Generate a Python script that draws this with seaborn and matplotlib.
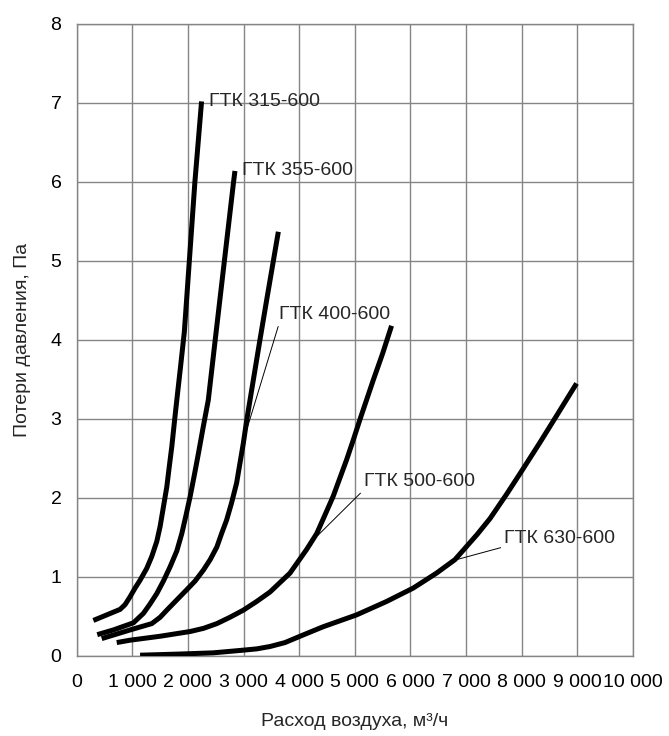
import numpy as np
import pandas as pd
import matplotlib
matplotlib.use("Agg")
import matplotlib.pyplot as plt
import seaborn as sns

# Pressure loss curves (air flow m³/h -> pressure loss Pa)
gtk315_x = [300, 540, 780, 870, 960, 1050, 1140, 1260, 1350, 1440, 1500, 1560, 1620,
            1665, 1710, 1755, 1800, 1870, 1935, 2025, 2125, 2245]
gtk315_y = [0.45, 0.52, 0.59, 0.65, 0.75, 0.86, 0.96, 1.11, 1.26, 1.45, 1.64, 1.89, 2.14,
            2.40, 2.65, 2.95, 3.24, 3.68, 4.10, 5.00, 6.00, 7.02]

gtk355_x = [370, 660, 1020, 1110, 1200, 1320, 1440, 1560, 1680, 1800, 1890, 1965, 2040,
            2115, 2190, 2275, 2366, 2490, 2655, 2820, 2845]
gtk355_y = [0.27, 0.33, 0.42, 0.48, 0.54, 0.66, 0.79, 0.95, 1.13, 1.33, 1.55, 1.78, 2.02,
            2.29, 2.57, 2.90, 3.24, 4.00, 5.00, 6.00, 6.14]

gtk400_x = [450, 960, 1350, 1500, 1620, 1800, 1980, 2130, 2280, 2400, 2520, 2605, 2695,
            2785, 2875, 2935, 2995, 3060, 3130, 3294, 3416, 3535, 3625]
gtk400_y = [0.22, 0.33, 0.41, 0.49, 0.58, 0.71, 0.84, 0.95, 1.09, 1.22, 1.38, 1.55, 1.72,
            1.94, 2.19, 2.44, 2.69, 3.00, 3.30, 4.00, 4.51, 5.00, 5.37]

gtk500_x = [720, 960, 1500, 2040, 2280, 2520, 2755, 2995, 3235, 3475, 3655, 3835, 3955,
            4135, 4315, 4460, 4610, 4730, 4850, 4970, 5090, 5210, 5330, 5500, 5660]
gtk500_y = [0.17, 0.20, 0.25, 0.31, 0.35, 0.41, 0.49, 0.58, 0.69, 0.81, 0.93, 1.05, 1.17,
            1.35, 1.55, 1.78, 2.02, 2.25, 2.48, 2.73, 2.99, 3.24, 3.49, 3.83, 4.18]

gtk630_x = [1140, 1860, 2455, 2935, 3235, 3475, 3745, 4015, 4430, 5030, 5570, 6050, 6470,
            6800, 7000, 7200, 7430, 7730, 8025, 8325, 8625, 8985]
gtk630_y = [0.01, 0.025, 0.04, 0.07, 0.09, 0.12, 0.17, 0.25, 0.37, 0.52, 0.69, 0.86, 1.05,
            1.22, 1.38, 1.54, 1.74, 2.05, 2.37, 2.70, 3.04, 3.45]

curve_names = ["ГТК 315-600", "ГТК 355-600", "ГТК 400-600", "ГТК 500-600", "ГТК 630-600"]

x_ticks = [0, 1000, 2000, 3000, 4000, 5000, 6000, 7000, 8000, 9000, 10000]
x_tick_labels = ["0", "1 000", "2 000", "3 000", "4 000", "5 000", "6 000",
                 "7 000", "8 000", "9 000", "10 000"]
y_ticks = [0, 1, 2, 3, 4, 5, 6, 7, 8]

frames = []
for name, xs, ys in zip(curve_names,
                        [gtk315_x, gtk355_x, gtk400_x, gtk500_x, gtk630_x],
                        [gtk315_y, gtk355_y, gtk400_y, gtk500_y, gtk630_y]):
    frames.append(pd.DataFrame({"flow": xs, "loss": ys, "curve": name}))
df = pd.concat(frames, ignore_index=True)

sns.set_style("white")
plt.rcParams["font.family"] = ["Liberation Sans", "DejaVu Sans"]
plt.rcParams["font.size"] = 14

grid_color = "#858585"
fs = 14

fig = plt.figure(figsize=(6.69, 7.36), dpi=100)
ax = fig.add_axes([0.1146, 0.1087, 0.8316, 0.8587])

sns.lineplot(data=df, x="flow", y="loss", hue="curve", units="curve", estimator=None,
             palette=["black"] * len(curve_names), sort=False, linewidth=3.6,
             legend=False, ax=ax, solid_capstyle="butt", solid_joinstyle="round", zorder=3)

ax.set_xlim(0, 10000)
ax.set_ylim(0, 8)
ax.set_xticks(x_ticks)
ax.set_xticklabels(x_tick_labels)
ax.set_yticks(y_ticks)
ax.grid(True, color=grid_color, linewidth=1.0)
ax.set_axisbelow(True)
for sp in ax.spines.values():
    sp.set_color(grid_color)
    sp.set_linewidth(1.0)
ax.tick_params(axis="both", direction="out", length=6, width=1.0, color=grid_color,
               labelsize=fs, labelcolor="black", pad=5)
ax.tick_params(axis="x", pad=7)

ax.set_xlabel("Расход воздуха, м³/ч", fontsize=fs, labelpad=16)
ax.set_ylabel("Потери давления, Па", fontsize=fs, labelpad=14)

# Curve labels
ax.text(2380, 7.02, "ГТК 315-600", fontsize=fs, va="center", ha="left")
ax.text(2980, 6.14, "ГТК 355-600", fontsize=fs, va="center", ha="left")

leader = dict(arrowstyle="-", color="black", lw=0.7, shrinkA=0, shrinkB=0, relpos=(0, 0))
ax.annotate("ГТК 400-600", xy=(3020, 2.78), xytext=(3640, 4.32), fontsize=fs,
            va="center", ha="left", arrowprops=leader)
ax.annotate("ГТК 500-600", xy=(4340, 1.53), xytext=(5160, 2.21), fontsize=fs,
            va="center", ha="left", arrowprops=leader)
ax.annotate("ГТК 630-600", xy=(6830, 1.22), xytext=(7680, 1.49), fontsize=fs,
            va="center", ha="left", arrowprops=leader)

fig.savefig("out.png", dpi=100)
